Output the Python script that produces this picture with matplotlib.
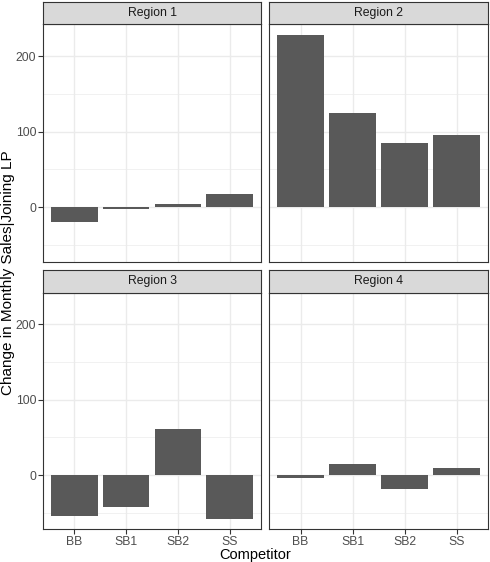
import matplotlib
matplotlib.use("Agg")
import matplotlib.pyplot as plt

plt.rcParams['font.family'] = ['Liberation Sans', 'DejaVu Sans']

competitors = ["BB", "SB1", "SB2", "SS"]
regions = ["Region 1", "Region 2", "Region 3", "Region 4"]
region1 = [-20, -2, 4, 17]
region2 = [228, 125, 85, 95]
region3 = [-55, -42, 61, -58]
region4 = [-4, 15, -18, 10]
values = [region1, region2, region3, region4]

ylim = (-72, 242)
bar_col = "#595959"
grid_col = "#EBEBEB"
border_col = "#333333"
strip_fill = "#D9D9D9"
text_col = "#4D4D4D"

W, H = 490, 562
fig = plt.figure(figsize=(W / 100, H / 100), dpi=100)

# panel boxes in pixels: (left, right) and (top, bottom)
cols = [(43.3, 260.7), (269.3, 488.0)]
rows = [(24.3, 261.7), (292.7, 529.3)]
strip_h = 22.6

for i, (name, vals) in enumerate(zip(regions, values)):
    r, c = divmod(i, 2)
    x0, x1 = cols[c]
    yt, yb = rows[r]
    ax = fig.add_axes([x0 / W, 1 - yb / H, (x1 - x0) / W, (yb - yt) / H])
    xs = range(1, len(competitors) + 1)
    ax.bar(xs, vals, width=0.9, color=bar_col, zorder=3)
    ax.set_xlim(0.4, 4.6)
    ax.set_ylim(*ylim)
    ax.set_yticks([0, 100, 200])
    ax.set_yticks([-50, 50, 150], minor=True)
    ax.set_xticks(list(xs))
    ax.grid(True, which="major", color=grid_col, lw=1.0, zorder=0)
    ax.grid(True, which="minor", axis="y", color=grid_col, lw=0.5, zorder=0)
    ax.tick_params(which="minor", length=0)
    ax.tick_params(which="major", length=3.6, width=0.8, color=border_col,
                   labelsize=8.8, labelcolor=text_col, pad=1.5)
    if r == 0:
        ax.set_xticklabels([])
        ax.tick_params(axis="x", length=0)
    else:
        ax.set_xticklabels(competitors)
    if c == 1:
        ax.set_yticklabels([])
        ax.tick_params(axis="y", length=0)
    for s in ax.spines.values():
        s.set_color(border_col)
        s.set_linewidth(0.8)
    # facet strip
    sax = fig.add_axes([x0 / W, 1 - yt / H, (x1 - x0) / W, strip_h / H])
    sax.set_xticks([])
    sax.set_yticks([])
    sax.set_facecolor(strip_fill)
    for s in sax.spines.values():
        s.set_color(border_col)
        s.set_linewidth(0.8)
    sax.text(0.5, 0.5, name, ha="center", va="center", fontsize=8.8,
             color="#1A1A1A", transform=sax.transAxes)

fig.text(255 / W, 1 - 555.5 / H, "Competitor", ha="center", va="center",
         fontsize=10.5, color="black")
fig.text(8 / W, 1 - 273 / H, "Change in Monthly Sales|Joining LP", ha="center",
         va="center", rotation=90, fontsize=11, color="black")

fig.savefig("out.png", dpi=100)
